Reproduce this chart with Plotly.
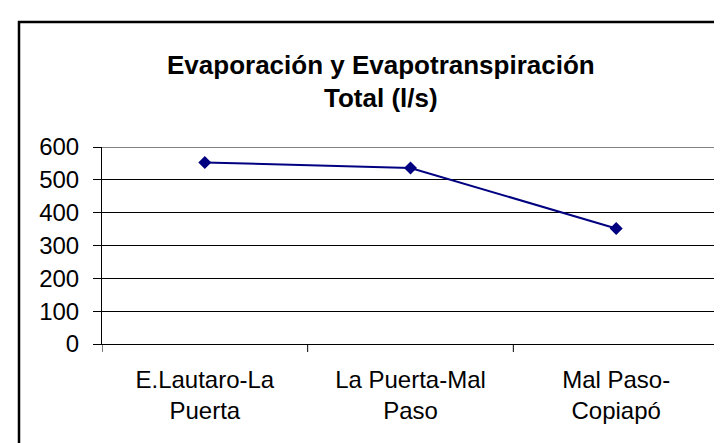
import plotly.graph_objects as go

categories = ["E.Lautaro-La<br>Puerta", "La Puerta-Mal<br>Paso", "Mal Paso-<br>Copiapó"]
values = [553, 536, 352]
y_ticks = [0, 100, 200, 300, 400, 500, 600]
title_lines = ["Evaporación y Evapotranspiración", "Total (l/s)"]

W, H = 722, 443
L, R, T, B = 94, 11, 139, 107
pw = W - L - R
ph = H - T - B

def px_x(p):
    return (p - L) / pw

def px_y(p):
    return (H - B - p) / ph

FONT = "Liberation Sans, Arial, sans-serif"

fig = go.Figure()
fig.add_trace(go.Scatter(
    x=list(range(len(categories))), y=values,
    mode="lines+markers",
    line=dict(color="#000080", width=2),
    marker=dict(symbol="diamond", size=10, color="#000080"),
    showlegend=False, hoverinfo="skip",
))

fig.update_layout(
    width=W, height=H,
    margin=dict(l=L, r=R, t=T, b=B, pad=0),
    paper_bgcolor="white", plot_bgcolor="white",
    font=dict(family=FONT, size=24, color="black"),
    xaxis=dict(
        range=[-0.5, 2.5], tickmode="array",
        tickvals=[0, 1, 2], ticktext=categories,
        showgrid=False, zeroline=False,
        showline=True, linecolor="black", linewidth=1,
        ticks="", ticklabelstandoff=14,
        tickfont=dict(family=FONT, size=24, color="black"),
    ),
    yaxis=dict(
        range=[0, 600], tickmode="array", tickvals=y_ticks,
        showgrid=True, gridcolor="black", gridwidth=1,
        zeroline=False, showline=True, linecolor="black", linewidth=1,
        ticks="outside", ticklen=8, tickcolor="black",
        ticklabelstandoff=9,
        tickfont=dict(family=FONT, size=24, color="black"),
    ),
)

# x ticks at category boundaries
for b in [-0.5, 0.5, 1.5, 2.5]:
    fig.add_shape(type="line", xref="x", yref="paper",
                  x0=b, x1=b, y0=0, y1=px_y(336 + 8),
                  line=dict(color="black", width=1))

# gray top and right plot border
fig.add_shape(type="line", xref="paper", yref="y", x0=0, x1=1, y0=600, y1=600,
              line=dict(color="#808080", width=2), layer="above")
fig.add_shape(type="line", xref="paper", yref="y", x0=1, x1=1, y0=0, y1=600,
              line=dict(color="#808080", width=2), layer="above")

# outer chart border
fig.add_shape(type="rect", xref="paper", yref="paper",
              x0=px_x(11), x1=px_x(740), y0=px_y(460), y1=px_y(14),
              line=dict(color="black", width=2.5), fillcolor="rgba(0,0,0,0)")

for line, ycen in zip(title_lines, [57, 90]):
    fig.add_annotation(text="<b>%s</b>" % line, xref="paper", yref="paper",
                       x=px_x(373), y=px_y(ycen), xanchor="center", yanchor="middle",
                       showarrow=False, font=dict(family=FONT, size=26, color="black"))

fig.write_html("out.html")
